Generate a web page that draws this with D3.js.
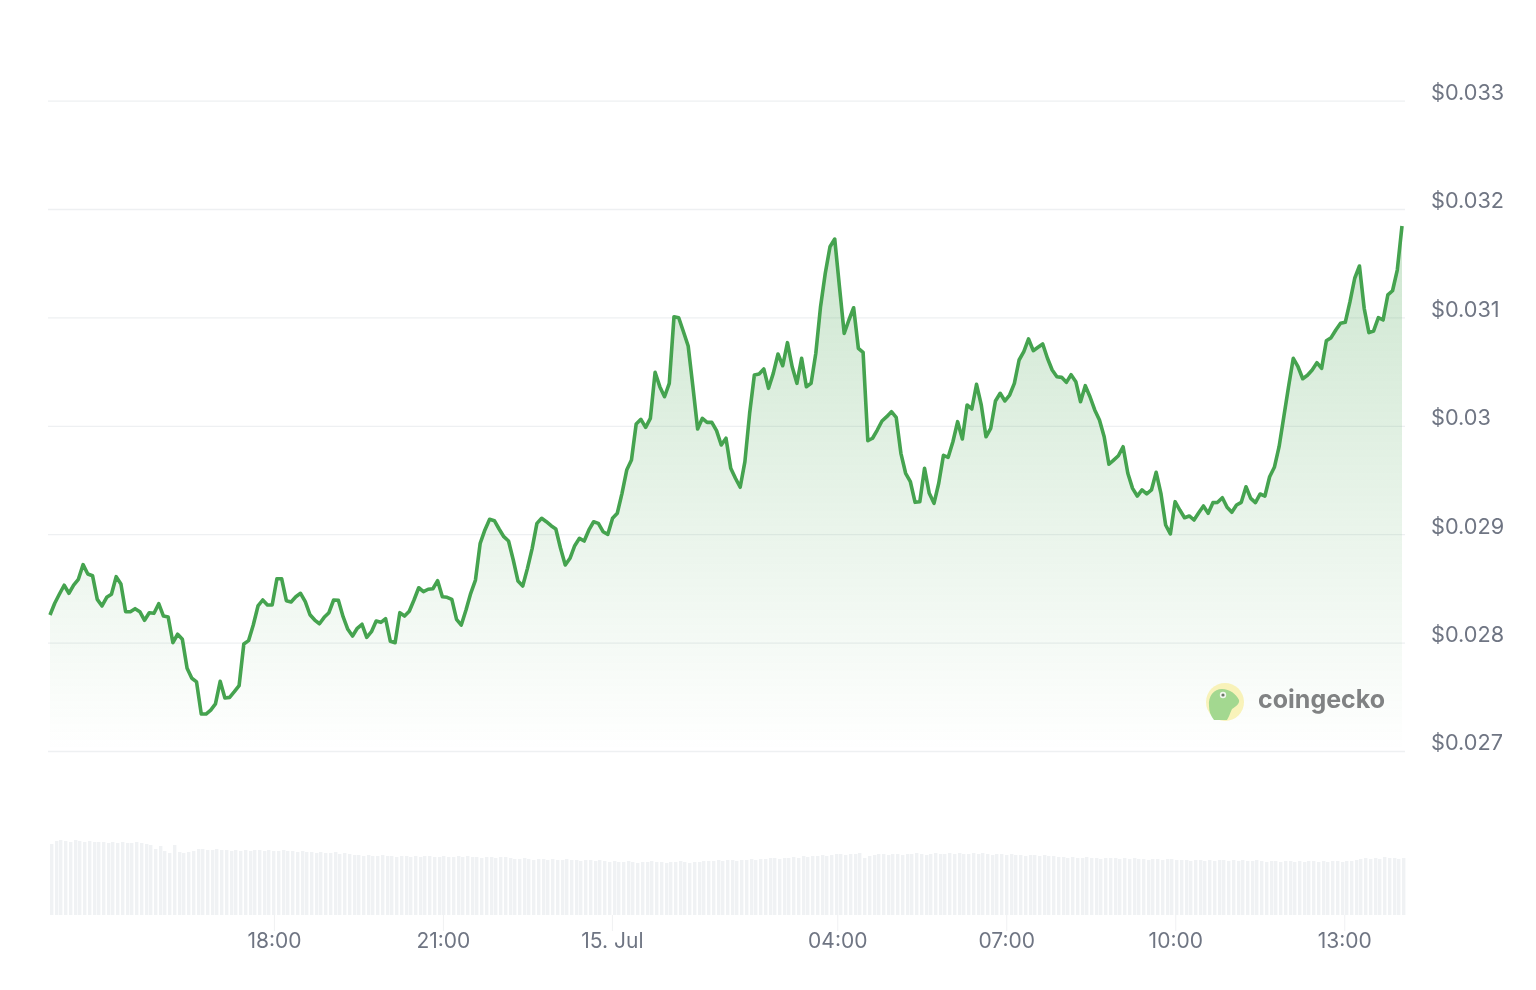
<!DOCTYPE html>
<html>
<head>
<meta charset="utf-8">
<script src="https://cdn.jsdelivr.net/npm/d3@7"></script>
<style>
  html, body { margin: 0; background: #fff; }
  svg { display: block; filter: blur(0.45px); }
  text { font-family: Inter, "Noto Sans", sans-serif; }
</style>
</head>
<body>
<script>
const w = 1536;
const h = 990;

// prices at even time steps
const prices = [
  .028255, .028363, .028448, .028529, .028455, .028531, .028584, .028719, .028633, .028617,
  .028399, .028338, .028418, .028446, .028608, .028541, .028285, .028285, .028313, .028285,
  .028206, .028276, .028270, .028359, .028245, .028236, .027999, .028077, .028030, .027763,
  .027671, .027637, .027341, .027341, .027378, .027434, .027643, .027489, .027495, .027547,
  .027602, .027987, .028018, .028162, .028338, .028393, .028347, .028347, .028589, .028589,
  .028387, .028375, .028423, .028455, .028377, .028257, .028208, .028174, .028233, .028276,
  .028393, .028390, .028239, .028123, .028061, .028132, .028169, .028049, .028101, .028199,
  .028187, .028220, .028012, .027999, .028276, .028245, .028289, .028393, .028506, .028470,
  .028492, .028497, .028571, .028423, .028418, .028399, .028215, .028162, .028301, .028455,
  .028577, .028916, .029039, .029137, .029125, .029048, .028977, .028937, .028762, .028568,
  .028522, .028685, .028870, .029100, .029147, .029115, .029078, .029048, .028870, .028716,
  .028778, .028894, .028962, .028937, .029039, .029115, .029100, .029023, .028999, .029147,
  .029193, .029377, .029592, .029684, .030017, .030060, .029986, .030069, .030493, .030361,
  .030268, .030392, .031006, .030997, .030868, .030736, .030361, .029970, .030069, .030032,
  .030032, .029955, .029823, .029885, .029608, .029516, .029433, .029669, .030115, .030469,
  .030478, .030524, .030346, .030484, .030662, .030554, .030767, .030545, .030392, .030623,
  .030361, .030392, .030669, .031099, .031407, .031652, .031723, .031283, .030853, .030976,
  .031089, .030715, .030678, .029863, .029885, .029961, .030044, .030084, .030130, .030078,
  .029746, .029562, .029484, .029294, .029300, .029608, .029377, .029285, .029470, .029728,
  .029709, .029853, .030038, .029878, .030192, .030155, .030383, .030192, .029899, .029977,
  .030229, .030300, .030229, .030284, .030392, .030607, .030684, .030801, .030693, .030724,
  .030755, .030623, .030515, .030453, .030447, .030401, .030471, .030407, .030222, .030370,
  .030268, .030146, .030053, .029899, .029645, .029684, .029724, .029807, .029562, .029423,
  .029352, .029408, .029371, .029408, .029571, .029377, .029085, .029002, .029300, .029223,
  .029152, .029168, .029131, .029198, .029260, .029193, .029291, .029294, .029337, .029248,
  .029202, .029269, .029294, .029438, .029331, .029291, .029371, .029352, .029530, .029617,
  .029807, .030084, .030361, .030623, .030545, .030434, .030466, .030515, .030582, .030530,
  .030785, .030813, .030884, .030946, .030955, .031145, .031361, .031474, .031084, .030859,
  .030875, .030997, .030976, .031207, .031246, .031437, .031843
];

// volume column heights, one per price (rough, the columns are very faint)
const volumes = [
  71, 74, 75, 74, 73, 75, 74, 73, 74, 73, 73,
  73, 72, 73, 72, 73, 72, 72, 73, 72, 71,
  70, 66, 69, 64, 62, 70, 63, 62, 63, 64,
  66, 66, 65, 65, 66, 65, 65, 64, 65, 64,
  65, 64, 65, 65, 64, 65, 64, 64, 65, 64, 64, 63, 64, 63,
  63, 62, 63, 62, 62, 63, 61, 62, 61, 60,
  60, 59, 60, 59, 59, 60, 59, 59, 58, 59, 59, 58, 59, 58, 59, 59,
  58, 58, 59, 58, 58, 59, 58, 59, 58, 58, 57, 58, 58, 57, 58, 58,
  57, 56, 56, 57, 56, 55, 56, 56, 55, 56, 55, 55, 56, 55, 55, 54, 55, 55, 54, 55, 54,
  53, 54, 53, 53, 54, 53, 52, 53, 53, 54, 53, 53, 52, 53, 53, 54, 53, 52, 53, 53, 54,
  54, 54, 55, 54, 55, 55, 54, 55, 55, 56, 55,
  56, 56, 57, 57, 56, 57, 57, 58, 57,
  59, 58, 59, 59, 60, 59, 60,
  61, 61, 60, 61, 61, 62, 57, 59,
  60, 61, 61, 60, 61, 61, 60, 61, 61, 62, 61, 60, 61, 62, 61, 61, 62, 61, 62, 61,
  61, 62, 61, 62, 61, 60, 61, 61, 60, 61,
  60, 60, 59, 60, 60, 59, 60, 59, 59, 58,
  58, 57, 58, 57, 57, 58, 57, 57, 56, 57, 57, 57, 56, 57,
  56, 57, 56, 56, 55, 56, 56, 55, 56, 56, 55,
  55, 55, 54, 55, 55, 54, 55, 54, 55, 55, 54, 55, 54, 55, 54, 54, 55,
  54, 53, 54, 54, 53, 54, 54, 53, 54, 53, 54, 54, 53, 54, 53, 54, 54, 53, 54,
  54, 55, 56, 57, 56, 57, 56, 58, 57, 57, 56, 57
];

const priceTicks = [0.027, 0.028, 0.029, 0.03, 0.031, 0.032, 0.033];
const priceLabels = ["$0.027", "$0.028", "$0.029", "$0.03", "$0.031", "$0.032", "$0.033"];
const timeTicks = [
  new Date(2024, 6, 14, 18), new Date(2024, 6, 14, 21), new Date(2024, 6, 15, 0),
  new Date(2024, 6, 15, 4), new Date(2024, 6, 15, 7), new Date(2024, 6, 15, 10), new Date(2024, 6, 15, 13)
];
const timeLabels = ["18:00", "21:00", "15. Jul", "04:00", "07:00", "10:00", "13:00"];

const start = new Date(2024, 6, 14, 14, 1, 30);
const end = new Date(2024, 6, 15, 14, 1, 30);
const stepMs = (end - start) / (prices.length - 1);
const timeAt = i => new Date(+start + i * stepMs);

const x = d3.scaleTime().domain([start, end]).range([50, 1402]);
const y = d3.scaleLinear().domain([0.027, 0.033]).range([751, 100.6]);
const yVol = d3.scaleLinear().domain([0, 80]).range([915, 835]);

const svg = d3.select("body").append("svg")
  .attr("width", w)
  .attr("height", h);

const grad = svg.append("defs").append("linearGradient")
  .attr("id", "areaFill")
  .attr("gradientUnits", "userSpaceOnUse")
  .attr("x1", 0).attr("x2", 0)
  .attr("y1", y(d3.max(prices))).attr("y2", y(0.027));
grad.append("stop").attr("offset", 0).attr("stop-color", "#45a34f").attr("stop-opacity", 0.27);
grad.append("stop").attr("offset", 1).attr("stop-color", "#45a34f").attr("stop-opacity", 0);

// price axis, the ticks double as grid lines
const yAxis = svg.append("g")
  .attr("transform", "translate(1405,0)")
  .call(d3.axisRight(y)
    .tickValues(priceTicks)
    .tickFormat((d, i) => priceLabels[i])
    .tickSize(-1357)
    .tickPadding(26));
yAxis.select(".domain").remove();
yAxis.selectAll("line").attr("stroke", "#eef0f2").attr("stroke-width", 1.3);
yAxis.selectAll("text")
  .attr("font-size", 21.7)
  .attr("fill", "#6f7583")
  .attr("dy", "-0.05em");

// volume columns, rounded x leaves uneven gaps like the original
svg.append("g")
  .selectAll("rect")
  .data(volumes)
  .enter()
  .append("rect")
  .attr("x", (d, i) => Math.round(x(timeAt(i))))
  .attr("y", d => yVol(d))
  .attr("width", 3.4)
  .attr("height", d => yVol(0) - yVol(d))
  .attr("fill", "#f0f2f4");

const area = d3.area()
  .x((d, i) => x(timeAt(i)))
  .y0(y(0.027))
  .y1(d => y(d));
const line = d3.line()
  .x((d, i) => x(timeAt(i)))
  .y(d => y(d));

svg.append("path")
  .attr("d", area(prices))
  .attr("fill", "url(#areaFill)");
svg.append("path")
  .attr("d", line(prices))
  .attr("fill", "none")
  .attr("stroke", "#45a34f")
  .attr("stroke-width", 3.6)
  .attr("stroke-linejoin", "round");

// time axis
const xAxis = svg.append("g")
  .attr("transform", "translate(0,915)")
  .call(d3.axisBottom(x)
    .tickValues(timeTicks)
    .tickFormat((d, i) => timeLabels[i])
    .tickSize(16)
    .tickPadding(0));
xAxis.select(".domain").remove();
xAxis.selectAll("line").attr("stroke", "#f0f1f3");
xAxis.selectAll("text")
  .attr("font-size", 21)
  .attr("fill", "#6f7583")
  .attr("y", 33)
  .attr("dy", 0);

// coingecko mark
const logo = svg.append("g");
logo.append("circle")
  .attr("cx", 1225).attr("cy", 702).attr("r", 19)
  .attr("fill", "#f8f1ae")
  .attr("opacity", 0.85);
logo.append("path")
  .attr("d", "M1209 706C1208 696 1214 689 1222 689C1230 689 1236 694 1239 700C1240 704 1235 707 1232 709C1230 713 1229 717 1227 720L1214 720C1211 716 1209 712 1209 706Z")
  .attr("fill", "#a3d890");
logo.append("circle").attr("cx", 1223).attr("cy", 695).attr("r", 3.2).attr("fill", "#f4f7f0");
logo.append("circle").attr("cx", 1223).attr("cy", 695).attr("r", 1.6).attr("fill", "#6a7a68");
logo.append("text")
  .attr("x", 1258).attr("y", 708)
  .attr("font-size", 25)
  .attr("font-weight", 700)
  .attr("fill", "#808283")
  .text("coingecko");
</script>
</body>
</html>
